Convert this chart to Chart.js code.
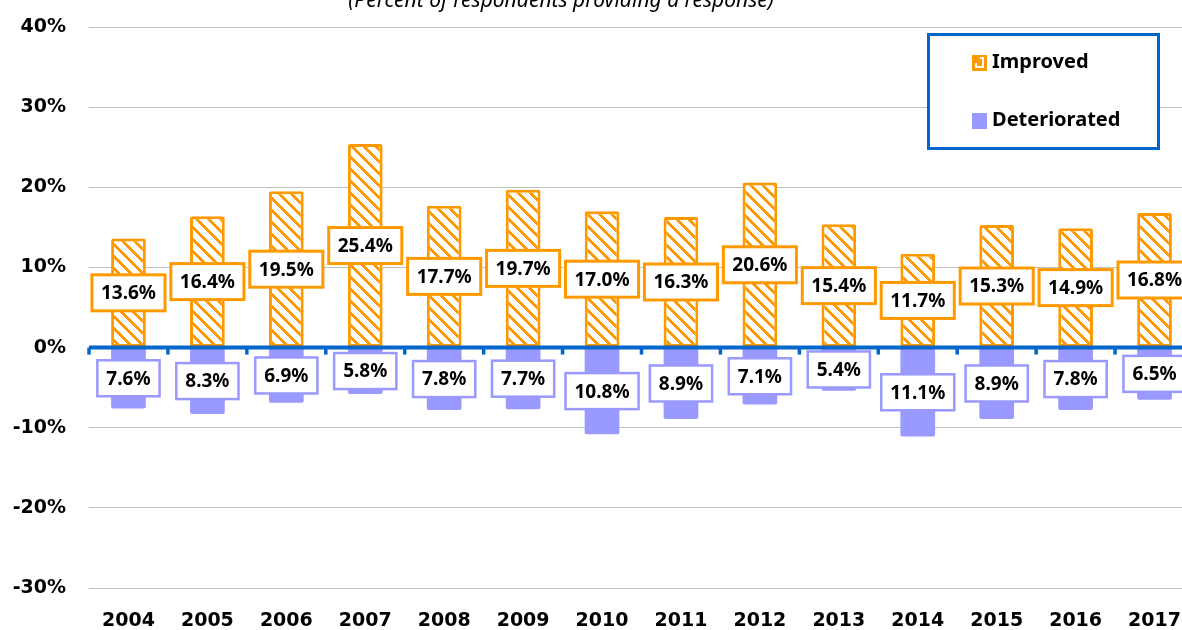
<!DOCTYPE html>
<html><head><meta charset="utf-8">
<script src="https://cdn.jsdelivr.net/npm/chart.js@4.4.0/dist/chart.umd.min.js"></script>
<style>
html,body{margin:0;padding:0;background:#fff;overflow:hidden;}
#wrap{position:relative;width:1182px;height:630px;overflow:hidden;background:#fff;}
canvas{position:absolute;left:0;top:0;}
</style></head><body>
<div id="wrap"><canvas id="c" width="1194" height="630"></canvas></div>
<script>
const years = ['2004','2005','2006','2007','2008','2009','2010','2011','2012','2013','2014','2015','2016','2017'];
const improved = [13.6,16.4,19.5,25.4,17.7,19.7,17.0,16.3,20.6,15.4,11.7,15.3,14.9,16.8];
const deteriorated = [-7.6,-8.3,-6.9,-5.8,-7.8,-7.7,-10.8,-8.9,-7.1,-5.4,-11.1,-8.9,-7.8,-6.5];
const yTicks = [-30,-20,-10,0,10,20,30,40];
const seriesNames = ['Improved','Deteriorated'];
const titleText = '(Percent of respondents providing a response)';

const ORANGE = '#FF9900', PURPLE = '#9999FF', BLUE = '#0066CC';
const canvas = document.getElementById('c');
const mainCtx = canvas.getContext('2d');

function makeHatch(){
  const N = 12;
  const t = document.createElement('canvas'); t.width = N; t.height = N;
  const g = t.getContext('2d');
  g.fillStyle = '#fff'; g.fillRect(0,0,N,N);
  g.fillStyle = ORANGE;
  for (let y=0;y<N;y++) for (let x=0;x<N;x++){ if ((((x-y)%N)+N)%N < 4) g.fillRect(x,y,1,1); }
  return mainCtx.createPattern(t,'repeat');
}
const hatch = makeHatch();

const overlay = {
  id:'overlay',
  afterDatasetsDraw(chart){
    const ctx = chart.ctx, ca = chart.chartArea;
    const yz = chart.scales.y.getPixelForValue(0);
    ctx.save();
    ctx.strokeStyle = BLUE; ctx.lineWidth = 4;
    ctx.beginPath(); ctx.moveTo(ca.left, yz); ctx.lineTo(ca.right, yz); ctx.stroke();
    const n = years.length, w = (ca.right-ca.left)/n;
    ctx.lineWidth = 3.5;
    for (let k=0;k<=n;k++){ const x = ca.left + k*w; ctx.beginPath(); ctx.moveTo(x, yz); ctx.lineTo(x, yz+7); ctx.stroke(); }
    ctx.font = 'bold 19px "Noto Sans"'; ctx.textAlign = 'center'; ctx.textBaseline = 'middle';
    chart.data.datasets.forEach((ds,i)=>{
      const meta = chart.getDatasetMeta(i);
      meta.data.forEach((el,j)=>{
        const v = ds.data[j];
        const txt = Math.abs(v).toFixed(1)+'%';
        const cx = el.x, cy = (el.y+el.base)/2;
        const tw = ctx.measureText(txt).width;
        const W = tw+18, H = 36;
        ctx.fillStyle = '#fff'; ctx.fillRect(cx-W/2, cy-H/2, W, H);
        ctx.strokeStyle = i===0 ? ORANGE : PURPLE; ctx.lineWidth = i===0 ? 3 : 2.5;
        ctx.strokeRect(cx-W/2, cy-H/2, W, H);
        ctx.fillStyle = '#000'; ctx.fillText(txt, cx, cy+1);
      });
    });
    ctx.restore();
  },
  afterDraw(chart){
    const ctx = chart.ctx;
    ctx.save();
    ctx.font = 'italic 21px "Noto Sans"'; ctx.fillStyle = '#000'; ctx.textAlign = 'center'; ctx.textBaseline = 'alphabetic';
    ctx.fillText(titleText, 561, 7);
    ctx.fillStyle = '#fff'; ctx.fillRect(928.5, 34.5, 230, 114);
    ctx.strokeStyle = BLUE; ctx.lineWidth = 3; ctx.strokeRect(928.5, 34.5, 230, 114);
    ctx.fillStyle = ORANGE; ctx.fillRect(972, 55, 15, 16);
    ctx.strokeStyle = '#fff'; ctx.lineWidth = 2;
    ctx.beginPath(); ctx.moveTo(980, 58); ctx.lineTo(983, 58); ctx.lineTo(983, 67); ctx.lineTo(976, 67); ctx.lineTo(976, 63); ctx.stroke();
    ctx.fillStyle = PURPLE; ctx.fillRect(972, 113, 15, 16);
    ctx.fillStyle = '#000'; ctx.font = 'bold 20px "Noto Sans"'; ctx.textAlign = 'left'; ctx.textBaseline = 'middle';
    ctx.fillText(seriesNames[0], 992, 62);
    ctx.fillText(seriesNames[1], 992, 120);
    ctx.restore();
  }
};

new Chart(canvas, {
  type:'bar',
  data:{
    labels: years,
    datasets:[
      {label: seriesNames[0], data: improved, backgroundColor: hatch, borderColor: ORANGE, borderWidth: 3, borderSkipped: false,
       borderRadius: 2, barPercentage: 0.44, categoryPercentage: 1},
      {label: seriesNames[1], data: deteriorated, backgroundColor: PURPLE, borderWidth: 0,
       borderRadius: 2, barPercentage: 0.44, categoryPercentage: 1}
    ]
  },
  options:{
    responsive:false, animation:false, devicePixelRatio:1,
    layout:{padding:{top:27,left:0,right:0,bottom:0}},
    plugins:{legend:{display:false}, tooltip:{enabled:false}, title:{display:false}},
    scales:{
      x:{stacked:true, grid:{display:false, drawTicks:false}, border:{display:false},
         ticks:{font:{family:'DejaVu Sans', weight:'bold', size:19}, color:'#000', padding:22, maxRotation:0, autoSkip:false},
         afterFit(s){ s.height = 42; s.paddingLeft = 0; s.paddingRight = 0; s.paddingTop = 0; s.paddingBottom = 0; }},
      y:{stacked:true, min:-30, max:40,
         grid:{color:'#C0C0C0', lineWidth:1, drawTicks:false}, border:{display:false},
         afterBuildTicks(s){ s.ticks = yTicks.map(v=>({value:v})); },
         ticks:{callback:v=>v+'%', font:{family:'DejaVu Sans', weight:'bold', size:19}, color:'#000', padding:23},
         afterFit(s){ s.width = 89; s.paddingTop = 0; s.paddingBottom = 0; s.paddingLeft = 0; s.paddingRight = 0; }}
    }
  },
  plugins:[overlay]
});
</script>
</body></html>
